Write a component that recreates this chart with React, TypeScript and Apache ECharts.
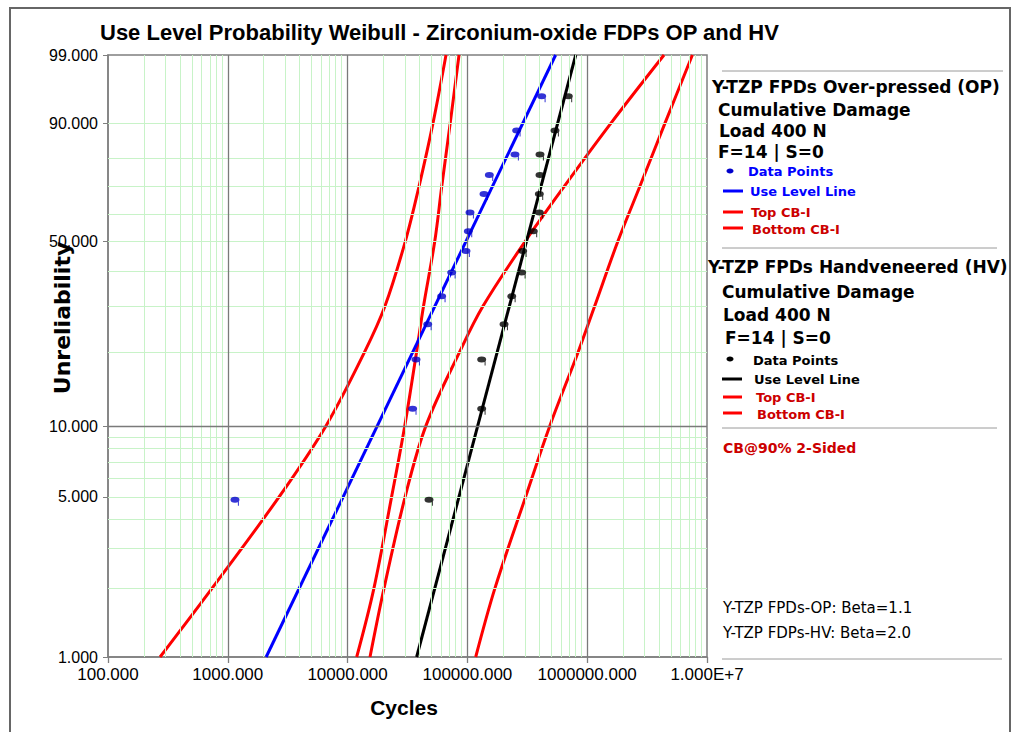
import React, { useEffect, useRef } from 'react';
import * as echarts from 'echarts';

// Weibull probability transform and log10 transform
const wb = (p: number) => Math.log(-Math.log(1 - p / 100));
const lg = (c: number) => Math.log10(c);

// ---- axis ticks / labels ----
const Y_TICKS = [1, 5, 10, 50, 90, 99];
const X_TICK_LABELS = ['100.000', '1000.000', '10000.000', '100000.000', '1000000.000', '1.000E+7'];
const X_MIN_EXP = 2;
const X_MAX_EXP = 7;
const GRID_F_MINOR = [2, 3, 4, 5, 6, 7, 8, 9, 20, 30, 40, 50, 60, 70, 80, 90];
const GRID_F_MAJOR = [10];
const GRID_X_MAJOR = [1000, 10000, 100000, 1000000];
const GRID_X_MULT = [2, 3, 4, 5, 6, 7, 8, 9];
const GRID_X_DECADES = [100, 1000, 10000, 100000, 1000000];

// ---- data points (median ranks, %) ----
const RANKS = [4.86, 11.81, 18.75, 25.69, 32.64, 39.58, 46.53, 53.47, 60.42, 67.36, 74.31, 81.25, 88.19, 95.14];
const OP_CYCLES = [1148, 34900, 37240, 46650, 60970, 73950, 97300, 101800, 105100, 137600, 152400, 249500, 257800, 417000];
const HV_CYCLES = [47800, 131600, 131600, 202200, 234400, 283800, 289500, 354800, 398400, 398400, 403600, 403600, 538500, 695300];

// ---- use level lines ----
const LINE_F = [1, 99];
const OP_LINE_CYCLES = [2090, 545000];
const HV_LINE_CYCLES = [37700, 802000];

// ---- confidence bounds (CB-I, 90% 2-sided) ----
const CB_F = [1, 2, 5, 10, 20, 30, 50, 70, 90, 99];
const OP_CB_LEFT = [272, 738, 2680, 6580, 13810, 20480, 30370, 39380, 51630, 66280];
const OP_CB_RIGHT = [15380, 20130, 30200, 44960, 85750, 134700, 304900, 639100, 1580000, 4377000];
const HV_CB_LEFT = [11910, 16580, 23290, 29970, 37590, 43010, 53440, 61030, 71850, 85110];
const HV_CB_RIGHT = [117300, 169600, 306100, 486400, 837900, 1153000, 1807000, 2743000, 4461000, 7552000];

const SANS = 'Liberation Sans, Arial, sans-serif';
const DV = 'DejaVu Sans, Verdana, sans-serif';
const RED_TXT = '#cc0000';
const MARKER = 'path://M0,3 A4.5,3 0 1,1 9,3 A4.5,3 0 1,1 0,3 Z M7.4,4 L8.4,4 L8.4,9 L7.4,9 Z';

function buildOption() {
  const minorX: number[] = [];
  GRID_X_DECADES.forEach((d) => GRID_X_MULT.forEach((k) => minorX.push(d * k)));
  const green = { color: '#c8f3c8', width: 1, type: 'solid' };
  const dark = { color: '#7a7a7a', width: 1.3, type: 'solid' };
  const gridMarks = [
    ...minorX.map((v) => ({ xAxis: lg(v), lineStyle: green })),
    ...GRID_F_MINOR.map((f) => ({ yAxis: wb(f), lineStyle: green })),
    ...GRID_X_MAJOR.map((v) => ({ xAxis: lg(v), lineStyle: dark })),
    ...GRID_F_MAJOR.map((f) => ({ yAxis: wb(f), lineStyle: dark })),
  ];

  const curve = (cyc: number[], fs: number[]) => fs.map((f, i) => [lg(cyc[i]), wb(f)]);
  const cb = (name: string, cyc: number[]) => ({
    name,
    type: 'line',
    data: curve(cyc, CB_F),
    showSymbol: false,
    symbol: 'none',
    smooth: 0.35,
    lineStyle: { color: '#ff0000', width: 3 },
    z: 3,
    silent: true,
  });

  const legendText = (x: number, y: number, text: string, fill: string, size: number, weight: string = 'bold', family: string = DV) => ({
    type: 'text',
    x,
    y,
    style: { text, fill, fontSize: size, fontWeight: weight, fontFamily: family, align: 'left', verticalAlign: 'middle' },
  });
  const legendLine = (x1: number, x2: number, y: number, stroke: string) => ({
    type: 'line',
    shape: { x1, y1: y, x2, y2: y },
    style: { stroke, lineWidth: 3 },
  });
  const sep = (x1: number, x2: number, y: number) => ({
    type: 'line',
    shape: { x1, y1: y, x2, y2: y },
    style: { stroke: '#9a9a9a', lineWidth: 1 },
  });
  const dot = (cx: number, cy: number, fill: string) => ({
    type: 'ellipse',
    shape: { cx, cy, rx: 3.5, ry: 2.5 },
    style: { fill },
  });

  const graphic = [
    { type: 'rect', shape: { x: 10, y: 8, width: 1000, height: 800 }, style: { fill: 'none', stroke: '#666', lineWidth: 2 }, silent: true },
    { type: 'text', x: 100, y: 32, style: { text: 'Use Level Probability Weibull - Zirconium-oxide FDPs OP and HV', fill: '#000', fontSize: 22, fontWeight: 'bold', fontFamily: SANS, align: 'left', verticalAlign: 'middle' } },
    { type: 'text', x: 62, y: 318, rotation: Math.PI / 2, style: { text: 'Unreliability', fill: '#000', fontSize: 22, fontWeight: 'bold', fontFamily: DV, align: 'center', verticalAlign: 'middle' } },
    { type: 'text', x: 404, y: 707, style: { text: 'Cycles', fill: '#000', fontSize: 21, fontWeight: 'bold', fontFamily: SANS, align: 'center', verticalAlign: 'middle' } },
    // OP legend
    sep(722, 1003, 71),
    legendText(712, 87, 'Y-TZP FPDs Over-pressed (OP)', '#000', 17),
    legendText(718, 110, 'Cumulative Damage', '#000', 17),
    legendText(719, 131, 'Load 400 N', '#000', 17),
    legendText(718, 152, 'F=14 | S=0', '#000', 17),
    dot(730, 171, '#0000cc'),
    legendText(748, 171, 'Data Points', '#0000ff', 13),
    legendLine(723, 743, 191, '#0000ff'),
    legendText(750, 191, 'Use Level Line', '#0000ff', 13),
    legendLine(723, 743, 212, '#ff0000'),
    legendText(751, 212, 'Top CB-I', RED_TXT, 13),
    legendLine(723, 743, 228, '#ff0000'),
    legendText(752, 229, 'Bottom CB-I', RED_TXT, 13),
    sep(722, 997, 248),
    // HV legend
    legendText(708, 267, 'Y-TZP FPDs Handveneered (HV)', '#000', 17),
    legendText(722, 292, 'Cumulative Damage', '#000', 17),
    legendText(723, 315, 'Load 400 N', '#000', 17),
    legendText(725, 338, 'F=14 | S=0', '#000', 17),
    dot(730, 359, '#000'),
    legendText(753, 360, 'Data Points', '#000', 13),
    legendLine(722, 742, 379, '#000'),
    legendText(754, 379, 'Use Level Line', '#000', 13),
    legendLine(723, 742, 397, '#ff0000'),
    legendText(756, 397, 'Top CB-I', RED_TXT, 13),
    legendLine(723, 742, 413, '#ff0000'),
    legendText(757, 414, 'Bottom CB-I', RED_TXT, 13),
    sep(722, 997, 428),
    legendText(723, 448, 'CB@90% 2-Sided', RED_TXT, 14),
    legendText(723, 608, 'Y-TZP FPDs-OP: Beta=1.1', '#000', 15, 'normal'),
    legendText(723, 633, 'Y-TZP FDPs-HV: Beta=2.0', '#000', 15, 'normal'),
    sep(722, 1002, 659),
  ];

  const axisGray = '#7f7f7f';

  return {
    animation: false,
    backgroundColor: '#fff',
    grid: { left: 108, top: 55, right: 310, bottom: 75, show: true, borderColor: axisGray, borderWidth: 1.5, backgroundColor: 'transparent' },
    xAxis: {
      type: 'value',
      min: X_MIN_EXP,
      max: X_MAX_EXP,
      interval: 1,
      axisLine: { show: true, onZero: false, lineStyle: { color: axisGray, width: 1.5 } },
      axisTick: { show: true, length: 6, lineStyle: { color: axisGray, width: 1.3 } },
      axisLabel: {
        formatter: (v: number) => X_TICK_LABELS[Math.round(v) - X_MIN_EXP] ?? '',
        fontFamily: SANS,
        fontSize: 17,
        color: '#000',
        margin: 9,
        showMinLabel: true,
        showMaxLabel: true,
      },
      splitLine: { show: false },
    },
    yAxis: {
      type: 'value',
      min: wb(Y_TICKS[0]),
      max: wb(Y_TICKS[Y_TICKS.length - 1]),
      axisLine: { show: true, onZero: false, lineStyle: { color: axisGray, width: 1.5 } },
      axisTick: { show: true, length: 5, customValues: Y_TICKS.map(wb), lineStyle: { color: axisGray } },
      axisLabel: {
        customValues: Y_TICKS.map(wb),
        formatter: (v: number) => {
          const t = Y_TICKS.find((f) => Math.abs(wb(f) - v) < 1e-6);
          return t !== undefined ? t.toFixed(3) : '';
        },
        fontFamily: SANS,
        fontSize: 16,
        color: '#000',
        margin: 10,
      },
      splitLine: { show: false },
    },
    graphic,
    series: [
      {
        name: 'grid',
        type: 'line',
        data: [[X_MIN_EXP, wb(Y_TICKS[0])]],
        symbol: 'none',
        lineStyle: { opacity: 0 },
        silent: true,
        z: 1,
        markLine: {
          silent: true,
          symbol: ['none', 'none'],
          label: { show: false },
          emphasis: { disabled: true },
          data: gridMarks,
        },
      },
      cb('OP Top CB-I', OP_CB_LEFT),
      cb('OP Bottom CB-I', OP_CB_RIGHT),
      cb('HV Top CB-I', HV_CB_LEFT),
      cb('HV Bottom CB-I', HV_CB_RIGHT),
      {
        name: 'OP Use Level Line',
        type: 'line',
        data: curve(OP_LINE_CYCLES, LINE_F),
        symbol: 'none',
        lineStyle: { color: '#0000ff', width: 3 },
        z: 4,
      },
      {
        name: 'HV Use Level Line',
        type: 'line',
        data: curve(HV_LINE_CYCLES, LINE_F),
        symbol: 'none',
        lineStyle: { color: '#000', width: 3 },
        z: 4,
      },
      {
        name: 'OP Data Points',
        type: 'scatter',
        data: curve(OP_CYCLES, RANKS),
        symbol: MARKER,
        symbolSize: [9, 9],
        symbolOffset: [0, 1.5],
        itemStyle: { color: '#0000cc' },
        z: 5,
      },
      {
        name: 'HV Data Points',
        type: 'scatter',
        data: curve(HV_CYCLES, RANKS),
        symbol: MARKER,
        symbolSize: [9, 9],
        symbolOffset: [0, 1.5],
        itemStyle: { color: '#000' },
        z: 5,
      },
    ],
  };
}

export default function App() {
  const ref = useRef<HTMLDivElement>(null);
  useEffect(() => {
    if (!ref.current) return;
    const chart = echarts.init(ref.current, undefined, { renderer: 'svg' });
    chart.setOption(buildOption() as any);
    return () => chart.dispose();
  }, []);
  return (
    <div
      ref={ref}
      style={{ position: 'fixed', left: 0, top: 0, width: 1017, height: 732, background: '#fff' }}
    />
  );
}
